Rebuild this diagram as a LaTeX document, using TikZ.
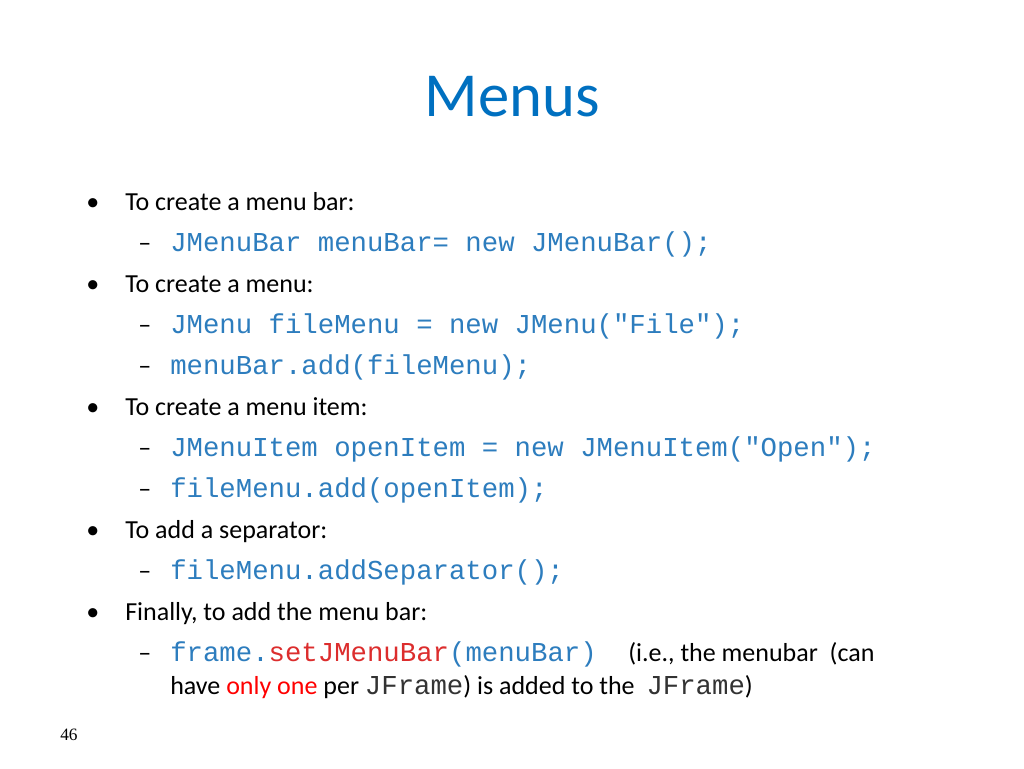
\documentclass[tikz,border=0pt]{standalone}
\usepackage{fontspec}
\setmainfont{Carlito}
\newfontfamily\codefont{Liberation Mono}
\newfontfamily\numfont{Liberation Serif}
\definecolor{titleblue}{RGB}{0,112,192}
\definecolor{codeblue}{RGB}{45,125,190}
\definecolor{codered}{RGB}{220,45,45}
\definecolor{brightred}{RGB}{255,0,0}
\begin{document}
\begin{tikzpicture}[x=0.75pt,y=-0.75pt,
  txt/.style={anchor=base west,inner sep=0pt,font=\fontsize{19.5}{23}\selectfont},
  code/.style={anchor=base west,inner sep=0pt,font=\fontsize{20.5}{23}\codefont,text=codeblue},
  bul/.style={anchor=base west,inner sep=0pt,font=\fontsize{19.5}{23}\selectfont}]
\useasboundingbox (0,0) rectangle (1024,768);
\fill[white] (0,0) rectangle (1024,768);
\node[anchor=base,inner sep=0pt,font=\fontsize{47}{50}\selectfont,text=titleblue] (title) at (512,116) {Menus};
% bullets
\foreach \y/\n in {210/b1,292/b2,415/b3,538/b4,620/b5}
  \node[bul] (\n) at (86,\y) {•};
\foreach \y/\n in {251/d1,333/d2,374/d3,456/d4,497/d5,579/d6,661/d7}
  \node[bul] (\n) at (138,\y) {–};
\node[txt] (t1) at (125,210) {To create a menu bar:};
\node[code] (c1) at (170,251) {JMenuBar menuBar= new JMenuBar();};
\node[txt] (t2) at (125,292) {To create a menu:};
\node[code] (c2) at (170,333) {JMenu fileMenu = new JMenu("File");};
\node[code] (c3) at (170,374) {menuBar.add(fileMenu);};
\node[txt] (t3) at (125,415) {To create a menu item:};
\node[code] (c4) at (170,456) {JMenuItem openItem = new JMenuItem("Open");};
\node[code] (c5) at (170,497) {fileMenu.add(openItem);};
\node[txt] (t4) at (125,538) {To add a separator:};
\node[code] (c6) at (170,579) {fileMenu.addSeparator();};
\node[txt] (t5) at (125,620) {Finally, to add the menu bar:};
\node[code] (c7) at (170,661) {frame.\textcolor{codered}{setJMenuBar}(menuBar)};
\node[txt] (t6) at (628,661) {(i.e., the menubar\ \ (can};
\node[txt] (t7) at (170,694) {have \textcolor{brightred}{only one} per {\codefont\fontsize{20.5}{23}\selectfont\color{black!80}JFrame}) is added to the\ \ {\codefont\fontsize{20.5}{23}\selectfont\color{black!80}JFrame})};
\node[anchor=base west,inner sep=0pt,font=\fontsize{13}{15}\numfont] (pg) at (60,740) {46};
\end{tikzpicture}
\end{document}
